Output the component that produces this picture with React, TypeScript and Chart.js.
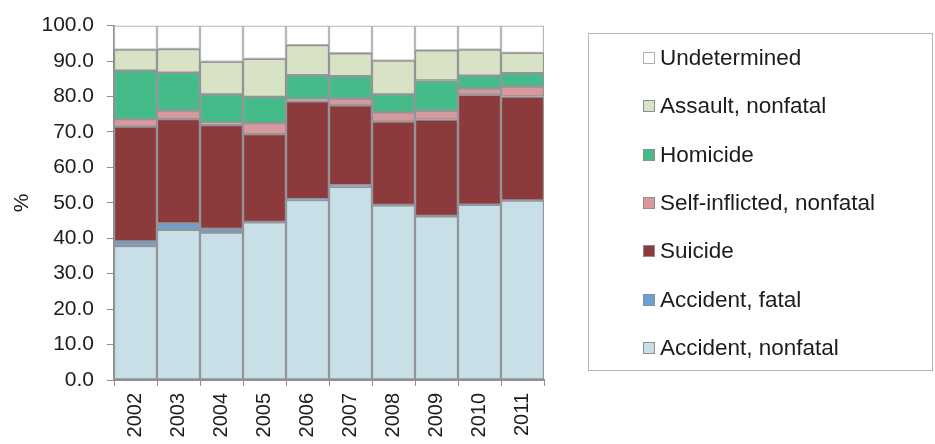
import React, { useEffect, useRef } from "react";
import { Chart, registerables } from "chart.js";

Chart.register(...registerables);

const years = ["2002", "2003", "2004", "2005", "2006", "2007", "2008", "2009", "2010", "2011"];
const accidentNonfatal = [37.8, 42.4, 41.6, 44.5, 50.8, 54.5, 49.3, 46.2, 49.4, 50.6];
const accidentFatal = [1.3, 1.8, 1.0, 0.1, 0.2, 0.5, 0.1, 0.1, 0.1, 0.1];
const suicide = [32.4, 29.4, 29.3, 24.8, 27.6, 22.5, 23.5, 27.2, 31.0, 29.3];
const selfInflicted = [2.1, 2.4, 0.8, 3.1, 0.8, 1.9, 2.6, 2.4, 1.7, 2.8];
const homicide = [13.7, 10.7, 7.9, 7.4, 6.6, 6.3, 5.1, 8.6, 3.7, 3.8];
const assaultNonfatal = [5.9, 6.7, 9.2, 10.7, 8.5, 6.5, 9.5, 8.5, 7.3, 5.7];
const undetermined = [6.8, 6.6, 10.2, 9.4, 5.5, 7.8, 9.9, 7.0, 6.8, 7.7];

const series = [
  { label: "Accident, nonfatal", data: accidentNonfatal, color: "#c8dfe8", border: "#939598" },
  { label: "Accident, fatal", data: accidentFatal, color: "#6aa0d4", border: "#939598" },
  { label: "Suicide", data: suicide, color: "#8d3a3c", border: "#939598" },
  { label: "Self-inflicted, nonfatal", data: selfInflicted, color: "#d9999c", border: "#939598" },
  { label: "Homicide", data: homicide, color: "#45bb89", border: "#939598" },
  { label: "Assault, nonfatal", data: assaultNonfatal, color: "#d7e3c4", border: "#939598" },
  { label: "Undetermined", data: undetermined, color: "#ffffff", border: "#b8b8b8" },
];

const FONT = "'Liberation Sans', Arial, sans-serif";
const TEXT = "#1c1c1c";

export default function App() {
  const ref = useRef<HTMLCanvasElement | null>(null);
  useEffect(() => {
    if (!ref.current) return;
    const chart = new Chart(ref.current, {
      type: "bar",
      data: {
        labels: years,
        datasets: series.map((s) => ({
          label: s.label,
          data: s.data,
          backgroundColor: s.color,
          borderColor: s.border,
          borderWidth: 1.5,
          borderSkipped: false,
          barPercentage: 1,
          categoryPercentage: 1,
        })),
      },
      options: {
        animation: false,
        responsive: false,
        maintainAspectRatio: false,
        layout: { padding: { left: 0, right: 391, top: 22, bottom: 0 } },
        plugins: { legend: { display: false }, tooltip: { enabled: false } },
        scales: {
          x: {
            stacked: true,
            grid: {
              display: true,
              drawOnChartArea: false,
              drawTicks: true,
              tickLength: 6,
              color: "#8e8e8e",
              offset: true,
            },
            border: { color: "#8e8e8e", width: 2 },
            ticks: {
              color: TEXT,
              font: { family: FONT, size: 20 },
              minRotation: 90,
              maxRotation: 90,
              padding: 7,
            },
            afterFit: (s: any) => {
              s.height = 64;
            },
          },
          y: {
            stacked: true,
            min: 0,
            max: 100,
            grid: {
              display: true,
              drawOnChartArea: false,
              drawTicks: true,
              tickLength: 7,
              color: "#8e8e8e",
            },
            border: { color: "#8e8e8e", width: 2 },
            ticks: {
              stepSize: 10,
              color: TEXT,
              font: { family: FONT, size: 21 },
              padding: 13,
              callback: (v: any) => Number(v).toFixed(1),
            },
            title: {
              display: true,
              text: "%",
              color: TEXT,
              font: { family: FONT, size: 21 },
              padding: { top: 10, bottom: 0 },
            },
            afterFit: (s: any) => {
              s.width = 114;
            },
          },
        },
      },
    });
    return () => chart.destroy();
  }, []);

  const legendItems = [...series].reverse();

  return (
    <div style={{ position: "absolute", left: 0, top: 0, width: 935, height: 444, background: "#fff" }}>
      <canvas ref={ref} width={935} height={444} style={{ position: "absolute", left: 0, top: 0 }} />
      <div
        style={{
          position: "absolute",
          left: 588,
          top: 33,
          width: 345,
          height: 338,
          border: "1.5px solid #b5b5b5",
          boxSizing: "border-box",
        }}
      >
        {legendItems.map((s, i) => (
          <div
            key={s.label}
            style={{
              position: "absolute",
              left: 54,
              top: 24 + i * 48.3 - 14,
              height: 28,
              display: "flex",
              alignItems: "center",
              fontFamily: FONT,
              fontSize: 22.5,
              color: TEXT,
              whiteSpace: "nowrap",
            }}
          >
            <span
              style={{
                display: "inline-block",
                width: 12,
                height: 12,
                background: s.color,
                border: "1.5px solid " + (s.label === "Undetermined" ? "#b0b0b0" : "#8e8e8e"),
                boxSizing: "border-box",
                marginRight: 5,
              }}
            />
            <span>{s.label}</span>
          </div>
        ))}
      </div>
    </div>
  );
}
